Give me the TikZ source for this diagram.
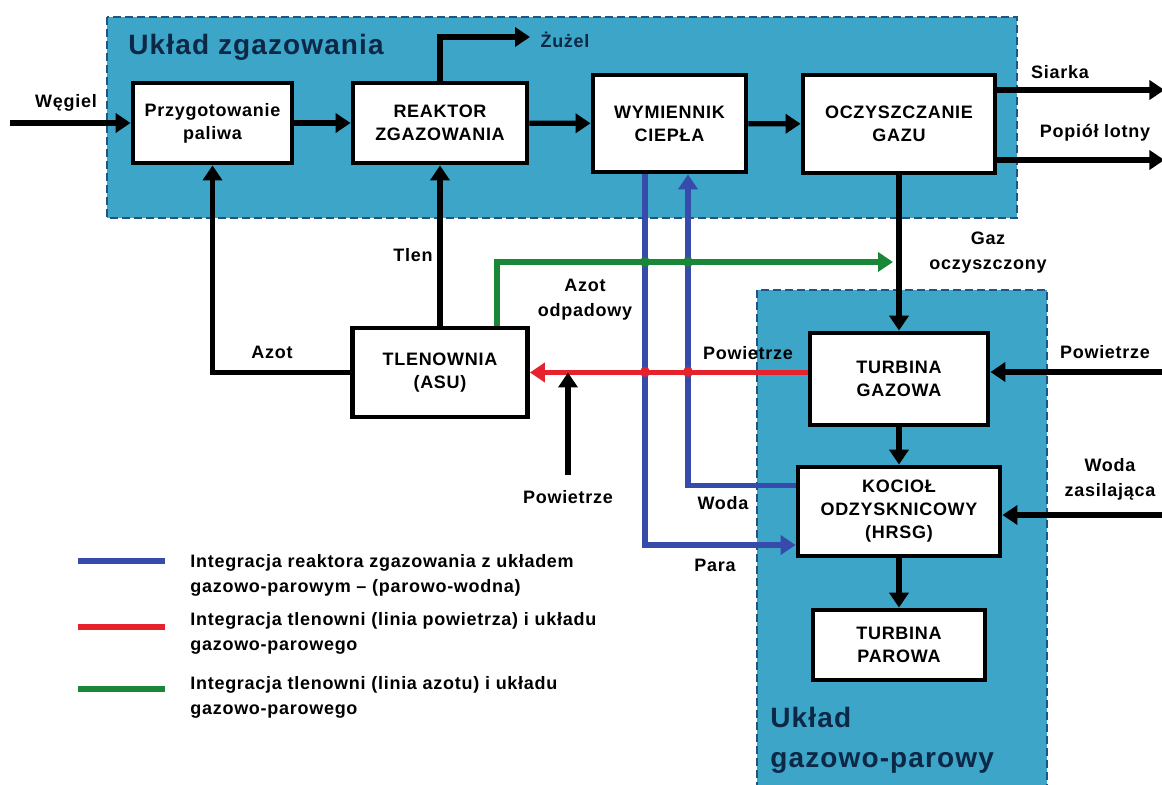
\documentclass[tikz,border=0pt]{standalone}
\usepackage{fontspec}
\setmainfont{Liberation Sans}[LetterSpace=4]
\usetikzlibrary{arrows.meta}
\definecolor{sysfill}{RGB}{60,165,200}
\definecolor{sysedge}{RGB}{30,85,130}
\definecolor{navy}{RGB}{12,40,70}
\definecolor{lblue}{RGB}{55,75,170}
\definecolor{lred}{RGB}{230,35,45}
\definecolor{lgreen}{RGB}{25,135,55}
\tikzset{
  box/.style={draw=black, line width=2.4pt, fill=white, align=center, inner sep=0pt,
    font=\bfseries\fontsize{9}{11.5}\selectfont},
  flow/.style={line width=2.6pt, -{Triangle[length=7.5pt,width=9.5pt]}},
  bflow/.style={line width=2.6pt, draw=lblue, -{Triangle[length=7.5pt,width=9.5pt]}},
  rflow/.style={line width=2.6pt, draw=lred, -{Triangle[length=7.5pt,width=9.5pt]}},
  gflow/.style={line width=2.6pt, draw=lgreen, -{Triangle[length=7.5pt,width=9.5pt]}},
  lbl/.style={font=\bfseries\fontsize{9}{12.5}\selectfont, align=center, inner sep=0pt},
  legtext/.style={font=\bfseries\fontsize{9}{12.5}\selectfont, align=left, anchor=west, inner sep=0pt},
  systitle/.style={font=\bfseries\fontsize{14}{20}\selectfont, text=navy, anchor=west, inner sep=0pt, align=left},
  sysedgeline/.style={draw=sysedge, line width=1.2pt, dash pattern=on 4pt off 2pt},
  legline/.style={line width=3pt}
}
\begin{document}
\begin{tikzpicture}[x=0.5pt,y=-0.5pt]
\useasboundingbox (0,0) rectangle (1162,785);
% system areas
\fill[sysfill] (107,17) rectangle (1017,218);
\draw[sysedgeline] (107,17) rectangle (1017,218);
\fill[sysfill] (757,290) rectangle (1047,785);
\draw[sysedgeline] (757,790) -- (757,290) -- (1047,290) -- (1047,790);
\node[systitle] (t1) at (128,47) {Układ zgazowania};
\node[systitle] (t2) at (770,740) {Układ\\gazowo-parowy};

% blocks
\node[box, minimum width=79.5pt, minimum height=40pt] (prz) at (212.5,123) {Przygotowanie\\paliwa};
\node[box, minimum width=87pt, minimum height=40pt] (rea) at (440,123) {REAKTOR\\ZGAZOWANIA};
\node[box, minimum width=76.5pt, minimum height=48.5pt] (wym) at (669.5,123.5) {WYMIENNIK\\CIEPŁA};
\node[box, minimum width=96pt, minimum height=49pt] (ocz) at (899,124) {OCZYSZCZANIE\\GAZU};
\node[box, minimum width=87.5pt, minimum height=44.5pt] (tle) at (440,372.5) {TLENOWNIA\\(ASU)};
\node[box, minimum width=89pt, minimum height=46pt] (tgz) at (899,379) {TURBINA\\GAZOWA};
\node[box, minimum width=101pt, minimum height=44.5pt] (koc) at (899,511.5) {KOCIOŁ\\ODZYSKNICOWY\\(HRSG)};
\node[box, minimum width=86pt, minimum height=35pt] (tpa) at (899,645) {TURBINA\\PAROWA};

% free ends
\coordinate (wst) at (10,123);
\coordinate (zend) at (530,37);
\coordinate (gend) at (893,262);
\coordinate (pwr) at (1162,372);
\coordinate (wzs) at (1162,515);
\coordinate (pwb) at (568,475);

% blue integration lines
\draw[bflow] ([xshift=-12.25pt]wym.south) |- ([yshift=-16.75pt]koc.west);
\draw[bflow] ([yshift=13pt]koc.west) -| ([xshift=9.25pt]wym.south);

% green
\draw[gflow] ([xshift=28.5pt]tle.north) |- (gend);
% red
\draw[rflow] (tgz.west |- tle.east) -- (tle.east);
\fill[lgreen] (645,262) circle (2.5pt);
\fill[lgreen] (688,262) circle (2.5pt);
\fill[lred] (645,372) circle (2.5pt);
\fill[lred] (688,372) circle (2.5pt);

% black flows
\draw[flow] (wst) -- (prz.west);
\draw[flow] (prz) -- (rea);
\draw[flow] (rea) -- (wym);
\draw[flow] (wym) -- (ocz);
\draw[flow] (rea.north) |- (zend);
\draw[flow] ([yshift=17pt]ocz.east) -- ++(167,0);
\draw[flow] ([yshift=-18pt]ocz.east) -- ++(167,0);
\draw[flow] (tle.north) -- (rea.south);
\draw[flow] (tle.west) -| (prz.south);
\draw[flow] (ocz.south) -- (tgz.north);
\draw[flow] (pwr) -- (pwr -| tgz.east);
\draw[flow] (tgz.south) -- (koc.north);
\draw[flow] (wzs) -- (wzs -| koc.east);
\draw[flow] (koc.south) -- (tpa.north);
\draw[flow] (pwb) -- (pwb |- tle.east);

% labels
\node[lbl] (lw) at (66,103) {Węgiel};
\node[lbl, text=navy] (lz) at (565,40) {Żużel};
\node[lbl] (ls) at (1060,72) {Siarka};
\node[lbl] (lp) at (1095,133) {Popiół lotny};
\node[lbl] (lt) at (413,255) {Tlen};
\node[lbl] (la) at (272,352) {Azot};
\node[lbl] (lao) at (585,300) {Azot\\odpadowy};
\node[lbl] (lg) at (988,253) {Gaz\\oczyszczony};
\node[lbl] (lpr) at (748,353) {Powietrze};
\node[lbl] (lpr2) at (1105,352) {Powietrze};
\node[lbl] (lpb) at (568,497) {Powietrze};
\node[lbl] (lwz) at (1110,479) {Woda\\zasilająca};
\node[lbl] (lwo) at (723,503) {Woda};
\node[lbl] (lpa) at (715,565) {Para};

% legend
\draw[legline, lblue] (78,561) -- (165,561);
\draw[legline, lred] (78,627) -- (165,627);
\draw[legline, lgreen] (78,689) -- (165,689);
\node[legtext] (e1) at (190,575) {Integracja reaktora zgazowania z układem\\gazowo-parowym – (parowo-wodna)};
\node[legtext] (e2) at (190,633) {Integracja tlenowni (linia powietrza) i układu\\gazowo-parowego};
\node[legtext] (e3) at (190,697) {Integracja tlenowni (linia azotu) i układu\\gazowo-parowego};
\end{tikzpicture}
\end{document}
